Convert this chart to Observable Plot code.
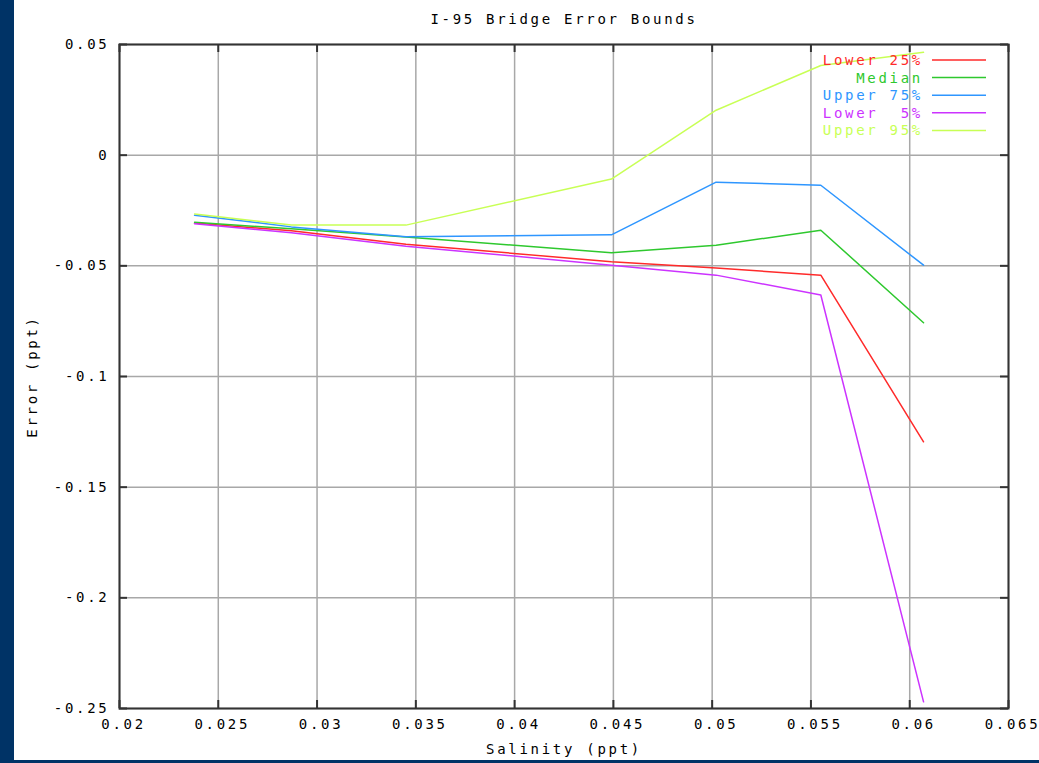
<!DOCTYPE html>
<html>
<head>
<meta charset="utf-8">
<script src="https://cdn.jsdelivr.net/npm/d3@7"></script>
<script src="https://cdn.jsdelivr.net/npm/@observablehq/plot@0.6"></script>
<style>
  html, body { margin: 0; padding: 0; background: #fff; overflow: hidden; }
  #wrap { position: relative; width: 1039px; height: 763px; }
  #band { position: absolute; left: 0; top: 0; width: 14px; height: 763px; background: #003366; }
  #bottomline { position: absolute; left: 14px; top: 760px; width: 1025px; height: 3px; background: #003366; }
</style>
</head>
<body>
<div id="wrap">
  <div id="chart"></div>
  <div id="band"></div>
  <div id="bottomline"></div>
</div>
<script>
// ---- data ----
const title = "I-95 Bridge Error Bounds";
const xLabel = "Salinity (ppt)";
const yLabel = "Error (ppt)";
const seriesNames = ["Lower 25%", "Median", "Upper 75%", "Lower\u00a0\u00a05%", "Upper 95%"];
const seriesColors = ["#ff2a2a", "#2ec82e", "#2e96ff", "#cc33ff", "#c8ff55"];
const salinity = [0.0238, 0.0287, 0.0345, 0.0449, 0.0502, 0.0555, 0.0607];
const lower25 = [-0.0307, -0.0342, -0.0402, -0.0482, -0.0510, -0.0542, -0.1295];
const median  = [-0.0303, -0.0333, -0.0370, -0.0441, -0.0407, -0.0339, -0.0757];
const upper75 = [-0.0271, -0.0324, -0.0369, -0.0360, -0.0122, -0.0136, -0.0497];
const lower5  = [-0.0310, -0.0350, -0.0411, -0.0497, -0.0542, -0.0632, -0.2470];
const upper95 = [-0.0266, -0.0316, -0.0316, -0.0108, 0.0203, 0.0405, 0.0465];
const xTicks = [0.02, 0.025, 0.03, 0.035, 0.04, 0.045, 0.05, 0.055, 0.06, 0.065];
const xTickLabels = ["0.02", "0.025", "0.03", "0.035", "0.04", "0.045", "0.05", "0.055", "0.06", "0.065"];
const yTicks = [0.05, 0, -0.05, -0.1, -0.15, -0.2, -0.25];
const yTickLabels = ["0.05", "0", "-0.05", "-0.1", "-0.15", "-0.2", "-0.25"];

// ---- build table ----
const valueArrays = [lower25, median, upper75, lower5, upper95];
const rows = [];
valueArrays.forEach((vals, si) => {
  vals.forEach((v, i) => rows.push({series: seriesNames[si], x: salinity[i], y: v}));
});

const W = 1039, H = 763;
const mL = 119, mR = 31, mT = 44, mB = 55;
const frameW = W - mL - mR, frameH = H - mT - mB;
const tickLen = 8;
const font = "'DejaVu Sans Mono', 'Liberation Mono', monospace";

const svg = Plot.plot({
  width: W,
  height: H,
  marginLeft: mL, marginRight: mR, marginTop: mT, marginBottom: mB,
  style: {fontFamily: font, fontSize: "14px", letterSpacing: "2.7px", background: "#fff", color: "#000"},
  x: {domain: [0.02, 0.065]},
  y: {domain: [-0.25, 0.05]},
  color: {domain: seriesNames, range: seriesColors},
  marks: [
    Plot.gridX(xTicks, {stroke: "#a8a8a8", strokeOpacity: 1, strokeWidth: 1.5}),
    Plot.gridY(yTicks, {stroke: "#a8a8a8", strokeOpacity: 1, strokeWidth: 1.5}),
    Plot.tickX(xTicks, {x: d => d, stroke: "#333", strokeWidth: 2, insetTop: frameH - tickLen}),
    Plot.tickX(xTicks, {x: d => d, stroke: "#333", strokeWidth: 2, insetBottom: frameH - tickLen}),
    Plot.tickY(yTicks, {y: d => d, stroke: "#333", strokeWidth: 2, insetRight: frameW - tickLen}),
    Plot.tickY(yTicks, {y: d => d, stroke: "#333", strokeWidth: 2, insetLeft: frameW - tickLen}),
    Plot.line(rows, {x: "x", y: "y", z: "series", stroke: "series", strokeWidth: 1.5}),
    Plot.frame({stroke: "#333", strokeWidth: 2}),
    Plot.axisX(xTicks, {tickSize: 0, tickPadding: 11, dx: 4, label: null, tickFormat: d => xTickLabels[xTicks.indexOf(d)], fill: "#000"}),
    Plot.axisY(yTicks, {tickSize: 0, tickPadding: 10, label: null, tickFormat: d => yTickLabels[yTicks.indexOf(d)], fill: "#000"}),
    Plot.text([title], {text: d => d, frameAnchor: "top", dy: -30, fontSize: 14, fill: "#000"}),
    Plot.text([xLabel], {text: d => d, frameAnchor: "bottom", dy: 45, fontSize: 14, fill: "#000"}),
    Plot.text([yLabel], {text: d => d, frameAnchor: "left", textAnchor: "middle", dx: -87, rotate: -90, fontSize: 14, fill: "#000"})
  ]
});

// legend inside the frame, top-right
const leg = d3.select(svg).append("g").attr("class", "legend");
seriesNames.forEach((name, i) => {
  const y = 60 + i * 17.6;
  leg.append("text")
    .attr("x", 923).attr("y", y).attr("dy", "0.35em")
    .attr("text-anchor", "end")
    .attr("fill", seriesColors[i])
    .style("font-size", "14px")
    .text(name);
  leg.append("line")
    .attr("x1", 932).attr("x2", 986).attr("y1", y).attr("y2", y)
    .attr("stroke", seriesColors[i]).attr("stroke-width", 1.5);
});

document.getElementById("chart").appendChild(svg);
</script>
</body>
</html>
